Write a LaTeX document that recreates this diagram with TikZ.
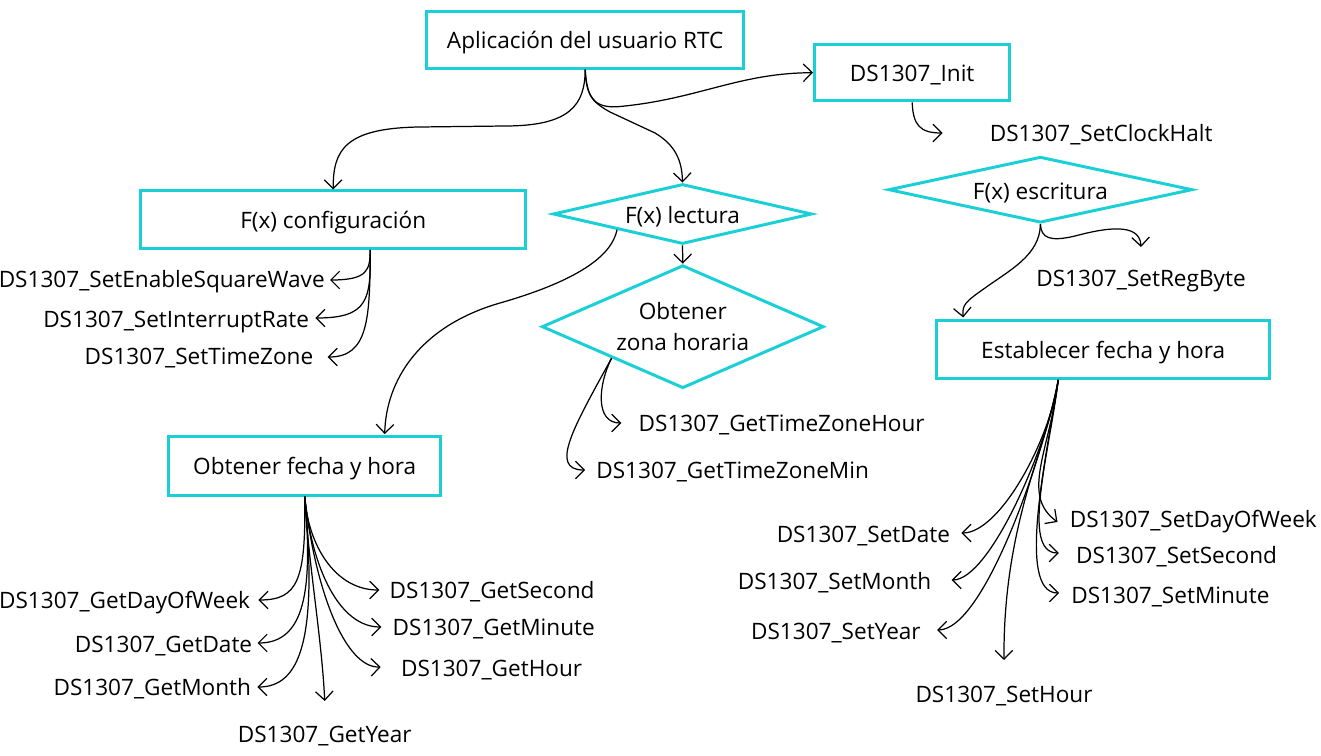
\documentclass[tikz,border=0pt]{standalone}
\usepackage{fontspec}
\setmainfont{Open Sans}
\definecolor{rtccyan}{HTML}{1BCFD7}
\usetikzlibrary{calc, positioning, shapes.geometric, arrows.meta}

\begin{document}
\begin{tikzpicture}[
  x=0.02cm, y=-0.02cm,
  font=\fontsize{12.85}{15.4}\selectfont,
  blk/.style={draw=rtccyan, line width=1.7pt, inner sep=0pt, text height=11.8pt, text depth=2pt},
  dec/.style={draw=rtccyan, line width=1.7pt, shape=diamond, inner sep=0pt},
  fn/.style={inner sep=0pt},
  lnk/.style={line width=0.7pt, -{Straight Barb[length=5pt,width=10pt]}},
]
\useasboundingbox (0,0) rectangle (1321,756);

\node[blk, minimum width=6.35cm, minimum height=1.14cm] (app) at (585.2,39.6) {Aplicación del usuario RTC};
\node[blk, minimum width=3.91cm, minimum height=1.13cm] (init) at (912.2,72.7) {DS1307\_Init};
\node[blk, minimum width=7.69cm, minimum height=1.15cm] (conf) at (333.2,219.7) {F(x) configuración};
\node[dec, minimum width=5.18cm, minimum height=1.2cm, aspect=4.3, text height=12.2pt, text depth=1.6pt] (lect) at (682.5,214) {F(x) lectura};
\node[dec, minimum width=6.08cm, minimum height=1.32cm, aspect=4.6, text height=12.2pt, text depth=1.6pt] (esc) at (1040.4,189.7) {F(x) escritura};
\node[dec, minimum width=5.64cm, minimum height=2.46cm, aspect=2.3, align=center,
      font=\fontsize{12.85}{17.6}\selectfont] (zona) at (682.8,326.7) {\raisebox{-0.07cm}{Obtener}\\\raisebox{-0.07cm}{zona horaria}};
\node[blk, minimum width=6.67cm, minimum height=1.15cm] (est) at (1103.2,349.7) {Establecer fecha y hora};
\node[blk, minimum width=5.45cm, minimum height=1.17cm] (obt) at (304.7,465.8) {Obtener fecha y hora};

\node[fn, anchor=base west] (clk) at (989.5,142) {DS1307\_SetClockHalt};
\node[fn, anchor=base] (reg) at (1141,287) {DS1307\_SetRegByte};
\node[fn, anchor=base east] (sqw) at (325,288) {DS1307\_SetEnableSquareWave};
\node[fn, anchor=base east] (irq) at (309.3,328) {DS1307\_SetInterruptRate};
\node[fn, anchor=base east] (tz) at (313.6,365) {DS1307\_SetTimeZone};
\node[fn, anchor=base west] (tzh) at (638.3,432) {DS1307\_GetTimeZoneHour};
\node[fn, anchor=base west] (tzm) at (596,479) {DS1307\_GetTimeZoneMin};
\node[fn, anchor=base east] (gdow) at (250.4,608) {DS1307\_GetDayOfWeek};
\node[fn, anchor=base east] (gdate) at (252.5,652) {DS1307\_GetDate};
\node[fn, anchor=base east] (gmon) at (251.3,695) {DS1307\_GetMonth};
\node[fn, anchor=base] (gyear) at (324.7,742) {DS1307\_GetYear};
\node[fn, anchor=base west] (gsec) at (389.3,598) {DS1307\_GetSecond};
\node[fn, anchor=base west] (gmin) at (392.3,635) {DS1307\_GetMinute};
\node[fn, anchor=base west] (ghr) at (400.7,676) {DS1307\_GetHour};
\node[fn, anchor=base west] (sdow) at (1069.5,527) {DS1307\_SetDayOfWeek};
\node[fn, anchor=base west] (ssec) at (1075.8,563) {DS1307\_SetSecond};
\node[fn, anchor=base west] (smin) at (1071,603) {DS1307\_SetMinute};
\node[fn, anchor=base east] (sdate) at (950.4,542) {DS1307\_SetDate};
\node[fn, anchor=base east] (smon) at (931.5,589) {DS1307\_SetMonth};
\node[fn, anchor=base east] (syear) at (921,639) {DS1307\_SetYear};
\node[fn, anchor=base] (shr) at (1004,702) {DS1307\_SetHour};

\draw[lnk] (app.south) .. controls (585,105) and (570,126) .. (505,126) -- (420,127) .. controls (345,128) and (333,150) .. (conf.north);
\draw[lnk] (app.south) .. controls (586,95) and (592,102) .. (610,112) -- (655,133) .. controls (675,145) and (682,160) .. (lect.north);
\draw[lnk] (app.south) .. controls (587,100) and (595,110) .. (625,106) .. controls (700,98) and (740,73) .. (init.west);
\draw[lnk] (init.south) .. controls (913,125) and (920,133) .. ($(clk.base west)+(-47,-9)$);
\draw[lnk] (lect.south) -- (zona.north);
\draw[lnk] (lect.south west) .. controls (612,255) and (580,280) .. (500,303) .. controls (420,326) and (386,380) .. ($(obt.north)+(80,-1)$);

\draw[lnk] ($(conf.south)+(37,0)$) .. controls (370,270) and (368,280) .. ($(sqw.base east)+(5,-8)$);
\draw[lnk] ($(conf.south)+(37,0)$) .. controls (371,300) and (368,318) .. ($(irq.base east)+(6,-10)$);
\draw[lnk] ($(conf.south)+(37,0)$) .. controls (370,320) and (368,357) .. ($(tz.base east)+(14,-8)$);

\draw[lnk] (zona.south west) .. controls (598,385) and (595,423) .. ($(tzh.base west)+(-17,-9)$);
\draw[lnk] (zona.south west) .. controls (575,425) and (548,470) .. ($(tzm.base west)+(-11,-9)$);

\draw[lnk] (esc.south) .. controls (1041,238) and (1050,242) .. (1075,236) .. controls (1105,228) and (1140,222) .. ($(reg.base)+(0,-40)$);
\draw[lnk] (esc.south) .. controls (1040,255) and (1010,270) .. (985,288) .. controls (965,302) and (962,305) .. ($(est.north)+(-140,-2)$);

\draw[lnk] (obt.south) .. controls (306,580) and (298,600) .. ($(gdow.base east)+(8,-8)$);
\draw[lnk] (obt.south) .. controls (313,590) and (305,643) .. ($(gdate.base east)+(5,-9)$);
\draw[lnk] (obt.south) .. controls (318,640) and (300,687) .. ($(gmon.base east)+(6,-8)$);
\draw[lnk] (obt.south) .. controls (308,560) and (322,640) .. ($(gyear.base)+(0,-41)$);
\draw[lnk] (obt.south) .. controls (308,545) and (335,590) .. ($(gsec.base west)+(-10,-8)$);
\draw[lnk] (obt.south) .. controls (312,570) and (340,627) .. ($(gmin.base west)+(-11,-8)$);
\draw[lnk] (obt.south) .. controls (315,590) and (345,668) .. ($(ghr.base west)+(-20,-9)$);

\draw[lnk] ($(est.south)+(-45,0)$) .. controls (1050,450) and (1020,495) .. ($(sdow.base west)+(-12,-5)$);
\draw[lnk] ($(est.south)+(-45,0)$) .. controls (1050,450) and (1020,553) .. ($(ssec.base west)+(-17,-10)$);
\draw[lnk] ($(est.south)+(-45,0)$) .. controls (1048,450) and (1015,593) .. ($(smin.base west)+(-12,-10)$);
\draw[lnk] ($(est.south)+(-45,0)$) .. controls (1050,440) and (1000,533) .. ($(sdate.base east)+(11,-9)$);
\draw[lnk] ($(est.south)+(-45,0)$) .. controls (1048,445) and (990,580) .. ($(smon.base east)+(20,-9)$);
\draw[lnk] ($(est.south)+(-45,0)$) .. controls (1045,450) and (985,630) .. ($(syear.base east)+(16,-9)$);
\draw[lnk] ($(est.south)+(-45,0)$) .. controls (1050,440) and (1003,520) .. ($(shr.base)+(0,-42)$);
\end{tikzpicture}
\end{document}
